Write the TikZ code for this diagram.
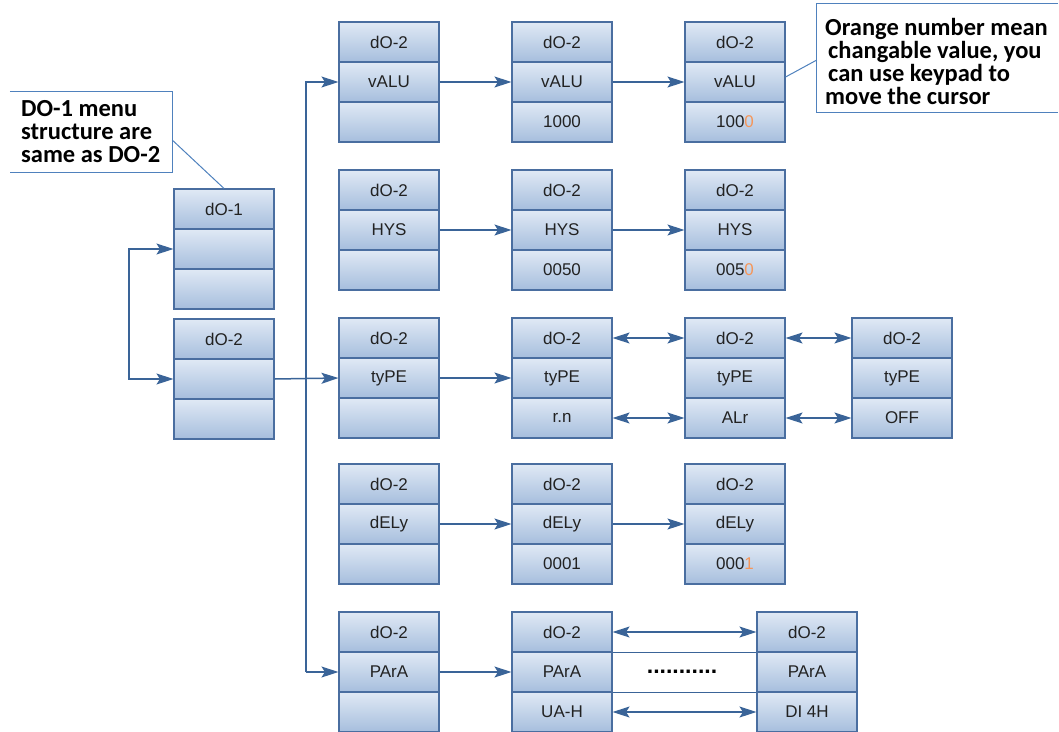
\documentclass[tikz,border=0pt]{standalone}
\usepackage{fontspec}
\setmainfont{Liberation Sans}
\newfontfamily\calfont{Carlito}
\usetikzlibrary{arrows.meta}
\definecolor{cellborder}{RGB}{74,110,160}
\definecolor{celltop}{RGB}{224,233,245}
\definecolor{cellbot}{RGB}{166,190,221}
\definecolor{arrowcol}{RGB}{58,100,152}
\definecolor{calloutcol}{RGB}{79,129,189}
\definecolor{orangenum}{RGB}{245,150,90}
\definecolor{celltext}{RGB}{34,34,34}
\newcommand{\menubox}[6]{%
  \node[cell] (#1a) at ({#2+50},{#3+20}) {#4};
  \node[cell] (#1b) at ({#2+50},{#3+60}) {#5};
  \node[cell] (#1c) at ({#2+50},{#3+100}) {#6};}
\newcommand{\onum}[1]{\textcolor{orangenum}{#1}}
\begin{document}
\begin{tikzpicture}[x=1pt,y=-1pt,
  cell/.style={draw=cellborder, line width=1.1pt, top color=celltop, bottom color=cellbot,
    minimum width=100pt, minimum height=40pt, inner sep=0pt,
    font=\fontsize{17}{18}\selectfont, text=celltext},
  arr/.style={draw=arrowcol, line width=1.5pt, -{Stealth[length=17pt,width=11pt,inset=3.5pt]}},
  darr/.style={draw=arrowcol, line width=1.5pt, {Stealth[length=17pt,width=11pt,inset=3.5pt]}-{Stealth[length=17pt,width=11pt,inset=3.5pt]}},
  link/.style={draw=arrowcol, line width=1.4pt},
  calloutbox/.style={draw=none, inner sep=0pt},
  callline/.style={draw=calloutcol, line width=1pt},
  callouttext/.style={align=left, inner sep=0pt, font=\calfont\bfseries\fontsize{24.5}{23}\selectfont, text=black}
]
\useasboundingbox (0,0) rectangle (1059,731);

% left column
\menubox{da}{174}{189}{dO-1}{}{}
\menubox{db}{174}{319}{dO-2}{}{}

% column 1
\menubox{va}{339}{22}{dO-2}{vALU}{}
\menubox{ha}{339}{170}{dO-2}{HYS}{}
\menubox{ta}{339}{318}{dO-2}{tyPE}{}
\menubox{ea}{339}{464}{dO-2}{dELy}{}
\menubox{pa}{339}{612}{dO-2}{PArA}{}

% column 2
\menubox{vb}{512}{22}{dO-2}{vALU}{1000}
\menubox{hb}{512}{170}{dO-2}{HYS}{0050}
\menubox{tb}{512}{318}{dO-2}{tyPE}{r.n}
\menubox{eb}{512}{464}{dO-2}{dELy}{0001}
\menubox{pb}{512}{612}{dO-2}{PArA}{UA-H}

% column 3
\menubox{vc}{685}{22}{dO-2}{vALU}{100\onum{0}}
\menubox{hc}{685}{170}{dO-2}{HYS}{005\onum{0}}
\menubox{tc}{685}{318}{dO-2}{tyPE}{ALr}
\menubox{ec}{685}{464}{dO-2}{dELy}{000\onum{1}}
\menubox{pc}{757}{612}{dO-2}{PArA}{DI 4H}

% column 4
\menubox{td}{852}{318}{dO-2}{tyPE}{OFF}

% left loop
\coordinate (loop) at (129,0);
\draw[darr] (dab.west) -| (loop |- dbb.west) -- (dbb.west);

% trunk
\coordinate (trunk) at (306,0);
\draw[arr] (dbb.east) -- (tab.west);
\draw[arr] (pab.west -| trunk) |- (vab.west);
\draw[arr] (pab.west -| trunk) -- (pab.west);

% row arrows
\draw[arr] (vab.east) -- (vbb.west);
\draw[arr] (vbb.east) -- (vcb.west);
\draw[arr] (hab.east) -- (hbb.west);
\draw[arr] (hbb.east) -- (hcb.west);
\draw[arr] (tab.east) -- (tbb.west);
\draw[arr] (eab.east) -- (ebb.west);
\draw[arr] (ebb.east) -- (ecb.west);
\draw[arr] (pab.east) -- (pbb.west);

\draw[darr] (tba.east) -- (tca.west);
\draw[darr] (tbc.east) -- (tcc.west);
\draw[darr] (tca.east) -- (tda.west);
\draw[darr] (tcc.east) -- (tdc.west);
\draw[darr] (pba.east) -- (pca.west);
\draw[darr] (pbc.east) -- (pcc.west);
\draw[link] (pba.south east) -- (pca.south west);
\draw[link] (pbb.south east) -- (pcb.south west);
\node[inner sep=0pt, font=\bfseries\fontsize{23}{23}\selectfont, text=black] (dots) at (682,672) {...........};

% callout left
\node[calloutbox, minimum width=162pt, minimum height=80pt] (cbox1) at (91,132) {};
\draw[callline] (cbox1.north west) -- (cbox1.north east) -- (cbox1.south east) -- (cbox1.south west);
\node[callouttext, anchor=west] (ctext1) at (21,132) {DO-1 menu\\structure are\\same as DO-2};
\draw[callline] ([yshift=-8pt]cbox1.east) -- (daa.north);

% callout right
\node[calloutbox, minimum width=241pt, minimum height=108pt] (cbox2) at (937.5,58) {};
\draw[callline] (cbox2.north east) -- (cbox2.north west) -- (cbox2.south west) -- (cbox2.south east);
\node[callouttext, anchor=west] (ctext2) at (825,61) {Orange number mean\\\hspace*{3pt}changable value, you\\\hspace*{3pt}can use keypad to\\move the cursor};
\draw[callline] ([yshift=5pt]vcb.east) -- ([yshift=-2pt]cbox2.west);
\end{tikzpicture}
\end{document}
